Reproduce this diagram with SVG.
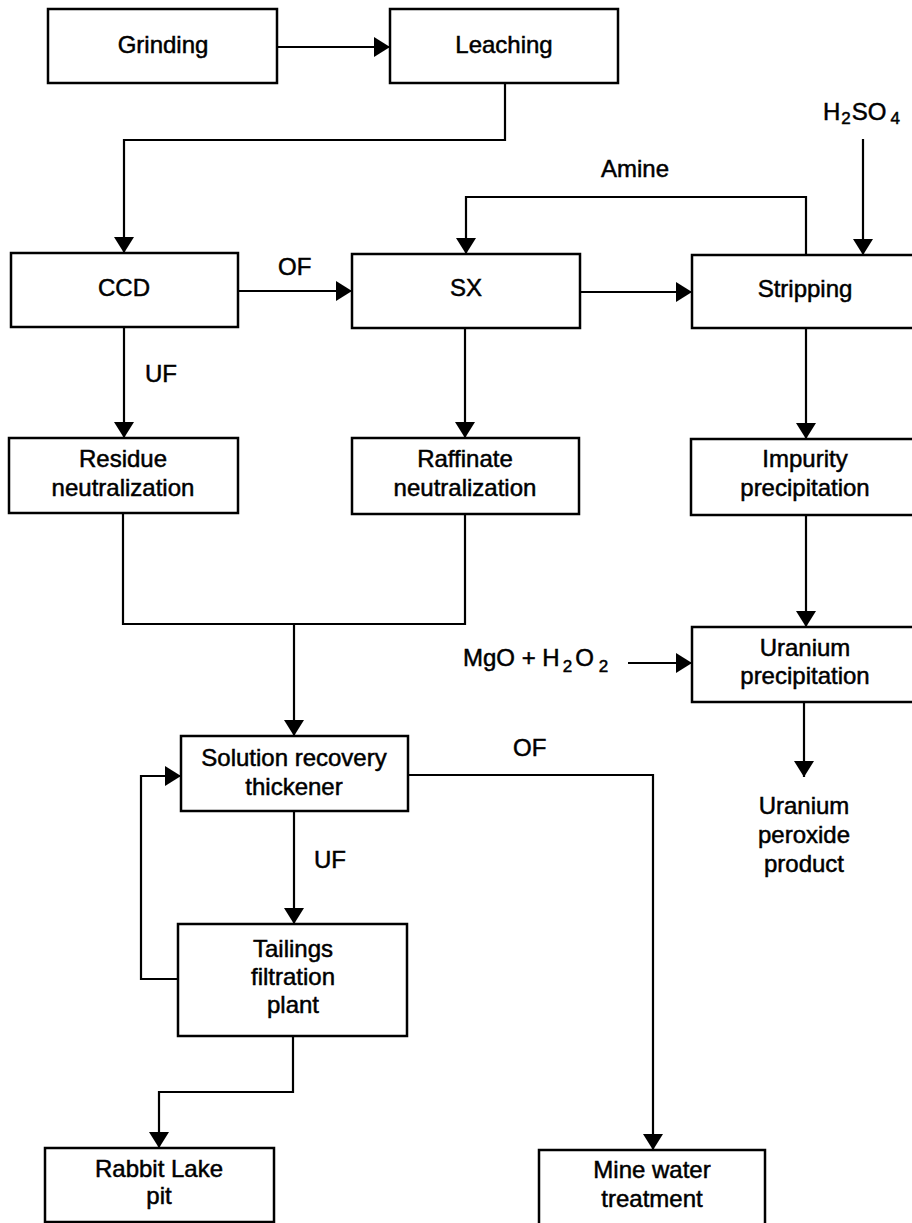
<svg xmlns="http://www.w3.org/2000/svg" width="912" height="1223" viewBox="0 0 912 1223">
<defs>
<marker id="ah" markerUnits="userSpaceOnUse" markerWidth="17" markerHeight="20" refX="16" refY="10" orient="auto">
<path d="M0,0 L16,10 L0,20 z" fill="#000"/>
</marker>
<style>
.box{fill:#fff;stroke:#000;stroke-width:2.5}
.t{font-family:"Liberation Sans",Arial,sans-serif;font-size:24px;fill:#000;stroke:#000;stroke-width:0.5;text-anchor:middle}
.l{font-family:"Liberation Sans",Arial,sans-serif;font-size:24px;fill:#000;stroke:#000;stroke-width:0.5}
.c path{fill:none;stroke:#000;stroke-width:2.2}
.a{marker-end:url(#ah)}
</style>
</defs>
<rect width="912" height="1223" fill="#fff"/>
<g id="connectors" class="c">
<path class="a" d="M277,47 H390"/>
<path class="a" d="M505,83 V140 H124 V253"/>
<path class="a" d="M238,291 H352"/>
<path class="a" d="M580,292 H692"/>
<path class="a" d="M806,255 V197 H466 V254"/>
<path class="a" d="M863,139 V255"/>
<path class="a" d="M124,327 V438"/>
<path class="a" d="M465,328 V438"/>
<path class="a" d="M806,328 V439"/>
<path d="M123,513 V624 H465 V514"/>
<path class="a" d="M294,624 V736"/>
<path class="a" d="M806,515 V627"/>
<path class="a" d="M628,663 H692"/>
<path class="a" d="M804,702 V777"/>
<path class="a" d="M408,775 H653 V1150"/>
<path class="a" d="M294,811 V924"/>
<path class="a" d="M178,979 H141 V776 H181"/>
<path class="a" d="M293,1036 V1092 H159 V1148"/>
</g>
<g id="labels">
<text class="l" x="278" y="275">OF</text>
<text class="l" x="601" y="177">Amine</text>
<text class="l" x="145" y="382">UF</text>
<text class="l" x="314" y="868">UF</text>
<text class="l" x="513" y="756">OF</text>
<text class="l" x="823" y="120">H<tspan font-size="17" dx="1" dy="4">2</tspan><tspan dx="1" dy="-4">SO</tspan><tspan font-size="17" dx="4" dy="4">4</tspan></text>
<text class="l" x="463" y="666">MgO + H<tspan font-size="17" dx="3" dy="6">2</tspan><tspan dx="3" dy="-6">O</tspan><tspan font-size="17" dx="5" dy="6">2</tspan></text>
</g>
<g id="grinding"><rect class="box" x="48" y="9" width="229" height="74"/><text class="t" x="163" y="53">Grinding</text></g>
<g id="leaching"><rect class="box" x="390" y="9" width="228" height="74"/><text class="t" x="504" y="53">Leaching</text></g>
<g id="ccd"><rect class="box" x="11" y="253" width="227" height="74"/><text class="t" x="124" y="296">CCD</text></g>
<g id="sx"><rect class="box" x="352" y="254" width="228" height="74"/><text class="t" x="466" y="296">SX</text></g>
<g id="stripping"><rect class="box" x="692" y="255" width="228" height="73"/><text class="t" x="805" y="297">Stripping</text></g>
<g id="residue"><rect class="box" x="9" y="438" width="229" height="75"/><text class="t" x="123" y="467">Residue</text><text class="t" x="123" y="496">neutralization</text></g>
<g id="raffinate"><rect class="box" x="352" y="438" width="227" height="76"/><text class="t" x="465" y="467">Raffinate</text><text class="t" x="465" y="496">neutralization</text></g>
<g id="impurity"><rect class="box" x="691" y="439" width="229" height="76"/><text class="t" x="805" y="467">Impurity</text><text class="t" x="805" y="496">precipitation</text></g>
<g id="uranium-precipitation"><rect class="box" x="692" y="627" width="228" height="75"/><text class="t" x="805" y="656">Uranium</text><text class="t" x="805" y="684">precipitation</text></g>
<g id="product"><text class="t" x="804" y="814">Uranium</text><text class="t" x="804" y="843">peroxide</text><text class="t" x="804" y="872">product</text></g>
<g id="solution-recovery"><rect class="box" x="181" y="736" width="227" height="75"/><text class="t" x="294" y="766">Solution recovery</text><text class="t" x="294" y="795">thickener</text></g>
<g id="tailings"><rect class="box" x="178" y="924" width="229" height="112"/><text class="t" x="293" y="957">Tailings</text><text class="t" x="293" y="985">filtration</text><text class="t" x="293" y="1013">plant</text></g>
<g id="rabbit-lake"><rect class="box" x="45" y="1148" width="229" height="74"/><text class="t" x="159" y="1177">Rabbit Lake</text><text class="t" x="159" y="1204">pit</text></g>
<g id="mine-water"><rect class="box" x="539" y="1150" width="226" height="85"/><text class="t" x="652" y="1178">Mine water</text><text class="t" x="652" y="1207">treatment</text></g>
</svg>
